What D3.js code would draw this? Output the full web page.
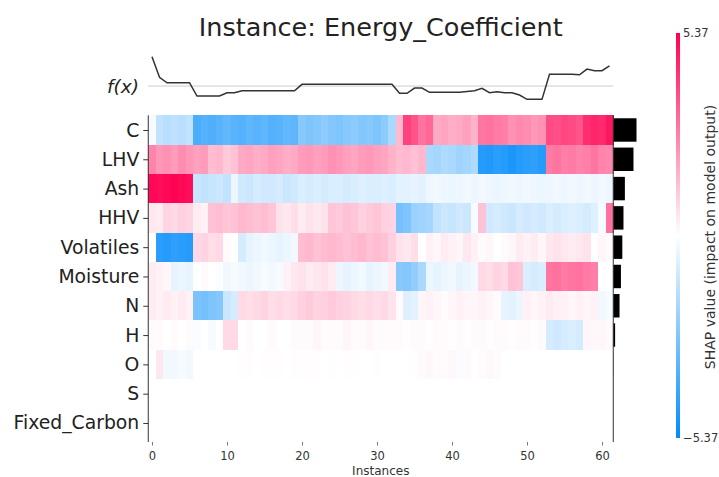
<!DOCTYPE html>
<html>
<head>
<meta charset="utf-8">
<script src="https://cdn.jsdelivr.net/npm/d3@7"></script>
<style>
  body { margin: 0; background: #fff; }
  svg { font-family: "DejaVu Sans", sans-serif; }
</style>
</head>
<body>
<div id="chart"></div>
<script>
var title = 'Instance: Energy_Coefficient';
var features = ['C', 'LHV', 'Ash', 'HHV', 'Volatiles', 'Moisture', 'N', 'H', 'O', 'S', 'Fixed_Carbon'];

// SHAP values per feature, one per instance (0..61)
var shapC = [-0.2, -1.3, -1.5, -1.4, -1.5, -1.3, -3.8, -3.6, -3.7, -3.5, -3.3, -3.5,
  -3.6, -3.4, -3.5, -3.4, -3.6, -3.5, -3.3, -3.4,
  -2.5, -2.7, -2.6, -2.4, -2.6, -2.7, -2.5, -2.4, -2.6, -2.5, -2.7, -2.4, -1.8,
  1.5, 4.0, 3.6, 3.0, 3.2, 1.8, 1.9, 1.7, 1.8, 2.0, 1.6, 2.9, 3.0, 2.8, 2.7,
  2.3, 2.5, 2.4, 2.2, 2.3, 3.8, 3.7, 3.9, 3.8, 3.6, 4.4, 4.6, 4.5, 4.9];
var shapLHV = [2.6, 2.2, 2.3, 2.1, 2.4, 2.2, 2.0, 2.1, 1.4, 1.5, 1.1, 1.3,
  1.8, 1.9, 1.7, 1.8, 2.0, 1.9, 1.7, 1.8,
  2.1, 2.2, 2.0, 2.1, 2.3, 2.2, 2.0, 1.9, 2.1, 2.2, 2.0, 1.9,
  1.6, 1.4, 1.5, 1.3, 1.5, -1.8, -1.9, -1.7, -1.8, -2.0, -1.9, -1.7,
  -4.6, -4.7, -4.5, -4.6, -4.8, -4.6, -4.5, -4.4, -4.6,
  2.8, 2.9, 2.7, 2.8, 2.6, 2.7, 2.9, 2.6, 2.5];
var shapAsh = [5.2, 5.1, 5.2, 5.3, 5.2, 5.1, -1.2, -1.3, -1.2, -1.1, -1.3, -0.4,
  -1.0, -1.1, -0.9, -1.0, -1.0, -0.9, -1.1, -1.0, -0.8, -0.9, -0.8, -0.9, -0.8, -0.8,
  -0.9, -0.8, -0.7, -0.8, -0.8, -0.7, -0.8,
  -0.6, -0.6, -0.5, -0.6,
  -0.35, -0.3, -0.35, -0.4, -0.35, -0.3, -0.35, -0.3, -0.35, -0.4, -0.35, -0.3, -0.35,
  -0.3, -0.35, -0.4, -0.35, -0.3, -0.35, -0.3, -0.35, -0.3, -0.35, -0.3, -0.35];
var shapHHV = [0.5, 0.4, 0.9, 0.8, 1.0, 0.9, 0.4, 0.3, 1.3, 1.4, 1.2, 1.3, 1.5, 1.4, 1.3, 1.4, 1.2,
  0.6, 0.5, 0.7, 0.4, 0.6, 0.5, 0.6, 1.2, 1.1, 1.3, 1.2, 1.0, 1.1, 1.2, 1.0, 0.9,
  -2.9, -2.7, -2.1, -2.0, -1.9, -1.3, -1.1, -1.2, -1.0, -1.1, -0.2, 1.3,
  -1.0, -0.9, -1.0, -1.1, -0.9, -1.0, -0.9, -1.0,
  -0.8, -0.9, -0.8, -0.7, -0.8, -0.9, -0.7, -0.2, 3.0];
var shapVolatiles = [0.0, -4.5, -4.6, -4.4, -4.5, -4.6, 0.8, 0.9, 0.7, 0.8, 0.1, 0.0, -0.9,
  -0.5, -0.4, -0.3, -0.4, -0.5, -0.4, -0.3,
  1.4, 1.5, 1.3, 1.4, 1.5, 1.4, 1.3, 1.4, 1.5, 1.3, 1.4, 1.3, 1.0,
  0.6, 0.5, 0.7, 0.0, 0.3, 0.2, 0.4, 0.3, 0.2, 0.5, 0.3, 0.1, 0.2, 0.0, 0.1, 0.2,
  0.4, 0.3, 0.4, 0.2, 0.5, 0.6, 0.5, 0.4, 0.5, 0.6, 0.0, 0.2, 0.1];
var shapMoisture = [0.4, 0.3, 0.2, -0.5, -0.4, -0.5, 0.0, 0.1, 0.0, -0.1,
  -0.3, -0.2, -0.3, -0.4, -0.3, -0.2, -0.3, -0.2, 0.3, 0.5, 0.6, 0.4, 0.5, 0.6, 0.4,
  -0.4, -0.5, -0.4, -0.3, -0.5, -0.4, -0.3, 0.4,
  -2.5, -2.6, -2.3, -1.8, -0.4, -0.5, -0.4, -0.3, -0.5, -0.4, -0.3,
  0.8, 0.7, 0.9, 0.8, 1.3, 1.2, -0.8, -0.9, -0.8,
  2.9, 3.0, 2.8, 2.9, 3.0, 2.8, 2.7, 0.0, 0.0];
var shapN = [0.4, 0.3, 0.4, 0.3, 0.4, 0.3, -2.8, -2.9, -2.7, -2.6, -1.1, -0.9,
  0.8, 0.7, 0.8, 0.9, 0.7, 0.8, 0.7, 0.8,
  1.0, 1.1, 0.9, 1.0, 1.1, 1.0, 0.9, 0.8, 0.7, 0.8, 0.7, 0.8, 0.6,
  0.1, -0.7, -0.6, 0.2, 0.3, 0.2, 0.1, 0.2, 0.3, 0.2, 0.2, 0.3, 0.2, 0.1,
  -0.5, -0.6, -0.4, 0.3, 0.2, 0.3, 0.4, 0.3, 0.3, 0.2, 0.3, 0.2, 0.3, -0.3, -0.2];
var shapH = [0.1, 0.1, 0.0, 0.1, 0.0, 0.1, -0.1, 0.0, -0.2, 0.0, 0.8, 0.8,
  0.0, 0.1, 0.0, 0.0, 0.1, 0.0, 0.0, 0.1,
  0.1, 0.1, 0.2, 0.1, 0.1, 0.1, 0.2, 0.1, 0.1, 0.2, 0.1, 0.1, 0.1,
  0.1, 0.05, 0.1, 0.1, 0.05, 0.1, 0.1, 0.05, 0.1, 0.05, 0.1, 0.1, 0.05, 0.1, 0.1, 0.05, 0.1, 0.1, 0.05, 0.1,
  -0.9, -1.0, -0.9, -0.8, -0.9, 0.2, 0.15, 0.2, 0.1];
var shapO = [0.0, 0.5, -0.3, -0.3, -0.2, -0.3,
  0, 0, 0, 0, 0, 0, 0.05, 0.05, 0, 0.05, 0.05, 0.05, 0, 0.05, 0.05, 0.05, 0.05, 0, 0.05, 0, 0.05, 0.05, 0, 0, 0.05, 0, 0,
  0, 0, 0.05, 0.1, 0.15, 0.1, 0.1, 0.15, -0.1, 0.1, 0, 0.1, 0.15, 0.1, 0,
  0, 0, 0, 0, 0, 0, 0, 0, 0, 0, 0, 0, 0, 0];
var shapS = [0, 0, 0, 0, 0, 0, 0, 0, 0, 0, 0, 0, 0, 0, 0, 0, 0, 0, 0, 0, 0, 0, 0, 0, 0, 0, 0, 0, 0, 0, 0,
  0, 0, 0, 0, 0, 0, 0, 0, 0, 0, 0, 0, 0, 0, 0, 0, 0, 0, 0, 0, 0, 0, 0, 0, 0, 0, 0, 0, 0, 0, 0];
var shapFixedCarbon = [0, 0, 0, 0, 0, 0, 0, 0, 0, 0, 0, 0, 0, 0, 0, 0, 0, 0, 0, 0, 0, 0, 0, 0, 0, 0, 0, 0, 0, 0, 0,
  0, 0, 0, 0, 0, 0, 0, 0, 0, 0, 0, 0, 0, 0, 0, 0, 0, 0, 0, 0, 0, 0, 0, 0, 0, 0, 0, 0, 0, 0, 0];

// model output per instance (relative to base value)
var fx = [9.40, 2.79, 1.06, 1.06, 1.06, 1.06, -3.21, -3.21, -3.21, -3.21, -2.15, -2.15,
  -1.50, -1.50, -1.50, -1.50, -1.50, -1.50, -1.50, -1.50,
  0.55, 0.55, 0.55, 0.55, 0.55, 0.55, 0.55, 0.55, 0.55, 0.55, 0.55, 0.55, 0.55,
  -2.34, -2.34, -0.64, -0.64, -2.02, -2.02, -2.02, -2.02, -2.02, -1.77, -1.50, -0.73,
  -2.15, -1.83, -2.15, -2.15, -2.89, -4.27, -4.27, -4.27,
  3.75, 3.75, 3.75, 3.75, 3.60, 5.45, 4.91, 4.91, 6.51];

// mean |SHAP| relative to the largest
var importance = [1.0, 0.87, 0.5, 0.44, 0.39, 0.33, 0.27, 0.08, 0.01, 0, 0];

var xTicks = [0, 10, 20, 30, 40, 50, 60];
var colorLimit = 5.37;

var rows = [shapC, shapLHV, shapAsh, shapHHV, shapVolatiles, shapMoisture, shapN, shapH, shapO, shapS, shapFixedCarbon];
var n = fx.length;

var w = 719, h = 477;
var svg = d3.select('#chart').append('svg')
  .attr('width', w)
  .attr('height', h);

var x = d3.scaleLinear().domain([-0.5, n - 0.5]).range([148.25, 613.25]);
var y = d3.scaleLinear().domain([-3, 10.65]).range([42.1, 442]);
var color = d3.scaleLinear()
  .domain([-colorLimit, 0, colorLimit])
  .range(['#008bfb', '#ffffff', '#ff0051'])
  .clamp(true);

// heatmap
var cells = [];
rows.forEach(function(vals, r) {
  vals.forEach(function(v, i) { cells.push({r: r, i: i, v: v}); });
});
svg.append('g').selectAll('rect')
  .data(cells)
  .enter().append('rect')
  .attr('x', function(d) { return x(d.i - 0.5); })
  .attr('y', function(d) { return y(d.r - 0.5); })
  .attr('width', x(1) - x(0) + 0.4)
  .attr('height', y(1) - y(0) + 0.4)
  .attr('fill', function(d) { return color(d.v); })
  .attr('shape-rendering', 'crispEdges');

// f(x) line
var fxMax = d3.max(fx, function(d) { return Math.abs(d); });
svg.append('line')
  .attr('x1', x(-0.5)).attr('x2', x(n - 0.5))
  .attr('y1', y(-1.5)).attr('y2', y(-1.5))
  .attr('stroke', '#cccccc')
  .attr('stroke-width', 1);
svg.append('path')
  .datum(fx)
  .attr('fill', 'none')
  .attr('stroke', '#333')
  .attr('stroke-width', 1.5)
  .attr('d', d3.line()
    .x(function(d, i) { return x(i); })
    .y(function(d) { return y(-d / fxMax - 1.5); }));

svg.append('text')
  .attr('x', 139)
  .attr('y', y(-1.5))
  .attr('dy', '0.38em')
  .attr('text-anchor', 'end')
  .style('font-style', 'italic')
  .style('font-size', '18.5px')
  .attr('fill', '#222')
  .text('f(x)');

// importance bars
svg.append('g').selectAll('rect')
  .data(importance)
  .enter().append('rect')
  .attr('x', x(n - 0.5))
  .attr('y', function(d, i) { return y(i - 0.4); })
  .attr('width', function(d) { return x(n - 0.5 + d * n / 20) - x(n - 0.5); })
  .attr('height', y(0.8) - y(0))
  .attr('fill', '#000');

// spines
[x(-0.5), x(n - 0.5)].forEach(function(sx) {
  svg.append('line')
    .attr('x1', sx).attr('x2', sx)
    .attr('y1', y(-0.5)).attr('y2', y(10.65))
    .attr('stroke', '#333')
    .attr('stroke-width', 1);
});

// y axis
var yAxis = svg.append('g')
  .attr('transform', 'translate(' + x(-0.5) + ',0)')
  .call(d3.axisLeft(y)
    .tickValues(d3.range(features.length))
    .tickFormat(function(i) { return features[i]; })
    .tickSize(5)
    .tickPadding(4));
yAxis.select('.domain').remove();
yAxis.selectAll('line').attr('stroke', '#333');
yAxis.selectAll('text')
  .style('font-size', '18.8px')
  .style('font-family', '"DejaVu Sans", sans-serif')
  .attr('fill', '#222');

// x axis
var xAxis = svg.append('g')
  .attr('transform', 'translate(0,' + y(10.65) + ')')
  .call(d3.axisBottom(x)
    .tickValues(xTicks)
    .tickSize(3.5)
    .tickPadding(6));
xAxis.select('.domain').remove();
xAxis.selectAll('line').attr('stroke', '#777');
xAxis.selectAll('text')
  .style('font-size', '11.5px')
  .style('font-family', '"DejaVu Sans", sans-serif')
  .attr('fill', '#333');

svg.append('text')
  .attr('x', (x(-0.5) + x(n - 0.5)) / 2)
  .attr('y', 475)
  .attr('text-anchor', 'middle')
  .style('font-size', '12px')
  .attr('fill', '#333')
  .text('Instances');

// title
svg.append('text')
  .attr('x', (x(-0.5) + x(n - 0.5)) / 2)
  .attr('y', 36)
  .attr('text-anchor', 'middle')
  .style('font-size', '25.5px')
  .attr('fill', '#222')
  .text(title);

// colorbar
var cb = d3.scaleLinear().domain([-colorLimit, colorLimit]).range([438, 33]);
var grad = svg.append('defs').append('linearGradient')
  .attr('id', 'cbgrad')
  .attr('x1', 0).attr('y1', 1).attr('x2', 0).attr('y2', 0);
grad.selectAll('stop')
  .data([-colorLimit, 0, colorLimit])
  .enter().append('stop')
  .attr('offset', function(d) { return (d + colorLimit) / (2 * colorLimit); })
  .attr('stop-color', function(d) { return color(d); });
svg.append('rect')
  .attr('x', 676)
  .attr('y', cb(colorLimit))
  .attr('width', 4)
  .attr('height', cb(-colorLimit) - cb(colorLimit))
  .attr('fill', 'url(#cbgrad)');

var cAxis = svg.append('g')
  .attr('transform', 'translate(680,0)')
  .call(d3.axisRight(cb)
    .tickValues([-colorLimit, colorLimit])
    .tickFormat(d3.format('.2f'))
    .tickSize(0)
    .tickPadding(3));
cAxis.select('.domain').remove();
cAxis.selectAll('text')
  .style('font-size', '11.5px')
  .style('font-family', '"DejaVu Sans", sans-serif')
  .attr('fill', '#333');

svg.append('text')
  .attr('transform', 'translate(710,237) rotate(-90)')
  .attr('dy', '0.35em')
  .attr('text-anchor', 'middle')
  .style('font-size', '14px')
  .attr('fill', '#333')
  .text('SHAP value (impact on model output)');
</script>
</body>
</html>
